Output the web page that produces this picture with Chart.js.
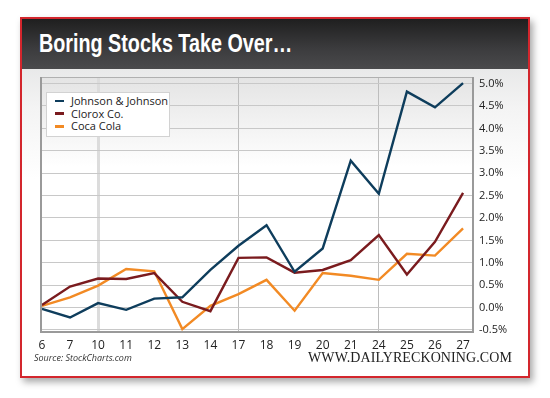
<!DOCTYPE html>
<html>
<head>
<meta charset="utf-8">
<script src="https://cdn.jsdelivr.net/npm/chart.js@4"></script>
<style>
  html, body { margin: 0; padding: 0; background: #fff; }
  body { width: 550px; height: 398px; position: relative; overflow: hidden; font-family: "Open Sans", sans-serif; }
  #card {
    position: absolute; left: 20px; top: 17px; width: 506px; height: 357px;
    border: 2px solid #d3262d;
    background: linear-gradient(#dadbdc 0px, #f4f4f4 90px, #fff 160px);
    box-shadow: 3px 4px 7px rgba(0,0,0,0.35);
  }
  #header {
    position: absolute; left: 0; top: 0; width: 506px; height: 50px;
    background: linear-gradient(#1f1f1f, #3c3c3e 60%, #4a4a4c);
  }
  #title {
    position: absolute; left: 17px; top: 10px; color: #fff;
    font-family: "Liberation Sans", Arial, sans-serif;
    font-weight: bold; font-size: 25px; white-space: nowrap;
    transform: scaleX(0.79); transform-origin: left top;
  }
  #source {
    position: absolute; left: 34px; top: 351px; font-size: 9px; font-style: italic; color: #333;
  }
  #site {
    position: absolute; left: 308px; top: 350px; font-size: 14px; color: #222;
    font-family: "Liberation Serif", "DejaVu Serif", serif; letter-spacing: 0.1px;
  }
  #chart { position: absolute; left: 0; top: 0; }
  #legend {
    position: absolute; left: 46px; top: 92px; width: 124px; height: 45px;
    background: #fff; border: 1px solid #d2d2d2; box-sizing: border-box;
    padding: 2px 0 0 8px; font-size: 11px; color: #222; line-height: 12.6px;
  }
  #legend .row { white-space: nowrap; }
  #legend .mark { display: inline-block; width: 9px; height: 2.5px; vertical-align: middle; margin-right: 7px; position: relative; top: -1px; }
</style>
</head>
<body>
<div id="card">
  <div id="header"><div id="title">Boring Stocks Take Over…</div></div>
</div>
<canvas id="chart" width="550" height="398"></canvas>
<div id="legend"></div>
<div id="source">Source: StockCharts.com</div>
<div id="site">WWW.DAILYRECKONING.COM</div>
<script>
const days = ['6', '7', '10', '11', '12', '13', '14', '17', '18', '19', '20', '21', '24', '25', '26', '27'];
const jnjValues = [-0.03, -0.22, 0.10, -0.05, 0.20, 0.23, 0.84, 1.38, 1.84, 0.80, 1.32, 3.28, 2.54, 4.82, 4.47, 5.01];
const cloroxValues = [0.06, 0.47, 0.65, 0.64, 0.77, 0.13, -0.08, 1.11, 1.12, 0.78, 0.84, 1.06, 1.62, 0.74, 1.47, 2.56];
const cokeValues = [0.04, 0.23, 0.49, 0.86, 0.81, -0.48, 0.04, 0.30, 0.62, -0.07, 0.77, 0.71, 0.62, 1.20, 1.16, 1.77];
const yTicks = [-0.5, 0, 0.5, 1.0, 1.5, 2.0, 2.5, 3.0, 3.5, 4.0, 4.5, 5.0];
const weekStarts = ['10', '17', '24'];

const series = [
    { label: 'Johnson & Johnson', values: jnjValues, color: '#0e3d5c' },
    { label: 'Clorox Co.', values: cloroxValues, color: '#7a1b1e' },
    { label: 'Coca Cola', values: cokeValues, color: '#f28a24' }
];

const plotBackground = {
    id: 'plotBackground',
    beforeDraw(chart) {
        const { ctx, chartArea: a } = chart;
        const g = ctx.createLinearGradient(0, a.top, 0, a.bottom);
        g.addColorStop(0, '#e4e4e4');
        g.addColorStop(0.35, '#ffffff');
        g.addColorStop(1, '#ffffff');
        ctx.save();
        ctx.fillStyle = g;
        ctx.fillRect(a.left, a.top, a.right - a.left, a.bottom - a.top);
        ctx.restore();
    },
    afterDraw(chart) {
        const { ctx, chartArea: a } = chart;
        ctx.save();
        ctx.strokeStyle = '#b0b0b0';
        ctx.lineWidth = 1;
        ctx.beginPath();
        ctx.moveTo(a.left, a.top + 0.5);
        ctx.lineTo(a.right, a.top + 0.5);
        ctx.stroke();
        ctx.strokeStyle = '#9a9a9a';
        ctx.lineWidth = 2;
        ctx.beginPath();
        ctx.moveTo(a.left + 1, a.top);
        ctx.lineTo(a.left + 1, a.bottom - 1);
        ctx.lineTo(a.right - 1, a.bottom - 1);
        ctx.lineTo(a.right - 1, a.top);
        ctx.stroke();
        ctx.restore();
    }
};

const ctx = document.getElementById('chart').getContext('2d');
const myChart = new Chart(ctx, {
    type: 'line',
    data: {
        datasets: series.map(s => ({
            label: s.label,
            data: s.values.map((v, i) => ({ x: i, y: v })),
            borderColor: s.color,
            backgroundColor: s.color,
            borderWidth: 2.4,
            pointRadius: 0,
            tension: 0,
            fill: false
        }))
    },
    options: {
        responsive: false,
        animation: false,
        layout: { padding: { left: 40, top: 77, right: 16, bottom: 45 } },
        plugins: { legend: { display: false }, tooltip: { enabled: false } },
        scales: {
            x: {
                type: 'linear',
                min: -0.07,
                max: 15.39,
                afterFit: s => { s.height = 20; },
                afterBuildTicks: s => { s.ticks = days.map((d, i) => ({ value: i })); },
                border: { display: false },
                grid: {
                    drawTicks: false,
                    color: c => weekStarts.includes(days[c.tick.value]) ? (days[c.tick.value] === '10' ? '#dcdcdc' : '#bdbdbd') : 'rgba(0,0,0,0)',
                    lineWidth: c => days[c.tick.value] === '10' ? 3 : 1
                },
                ticks: {
                    autoSkip: false,
                    maxRotation: 0,
                    padding: 5,
                    color: '#222',
                    font: { family: 'Open Sans', size: 12 },
                    callback: v => days[v]
                }
            },
            y: {
                position: 'right',
                min: -0.567,
                max: 5.147,
                afterFit: s => { s.width = 60; },
                afterBuildTicks: s => { s.ticks = yTicks.map(v => ({ value: v })); },
                border: { display: false },
                grid: { drawTicks: false, color: '#c8c8c8', lineWidth: 1 },
                ticks: {
                    padding: 5,
                    color: '#222',
                    font: { family: 'Open Sans', size: 11 },
                    callback: v => v.toFixed(1) + '%'
                }
            }
        }
    },
    plugins: [plotBackground]
});

const legend = document.getElementById('legend');
legend.innerHTML = myChart.data.datasets.map(d =>
    '<div class="row"><span class="mark" style="background:' + d.borderColor + '"></span>' + d.label + '</div>'
).join('');
</script>
</body>
</html>
